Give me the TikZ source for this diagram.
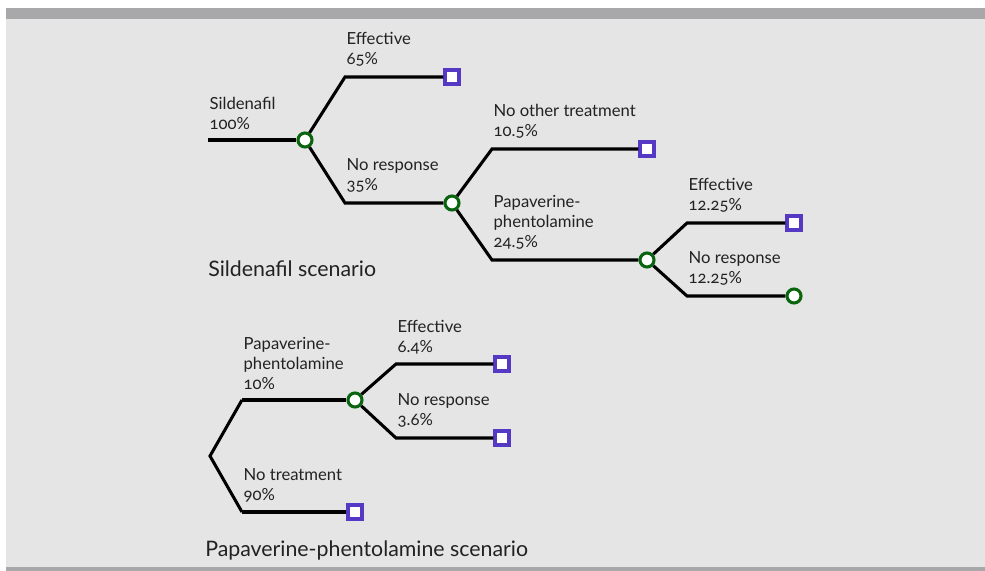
\documentclass[tikz,border=0pt]{standalone}
\usepackage{fontspec}
\setmainfont{Lato}[Numbers=OldStyle]
\usetikzlibrary{positioning, calc}
\definecolor{PanelGray}{HTML}{E5E5E6}
\definecolor{BarGray}{HTML}{A8A8AB}
\definecolor{ChanceGreen}{HTML}{0B650F}
\definecolor{EndBlue}{HTML}{5538C4}
\definecolor{TextGray}{HTML}{222222}

\begin{document}
\begin{tikzpicture}[
    x=0.75pt, y=-0.75pt,
    branch/.style={line width=2.3pt, black, line join=miter},
    chance/.style={circle, draw=ChanceGreen, line width=2.3pt, fill=white,
        minimum size=10.5pt, inner sep=0pt},
    terminal/.style={rectangle, draw=EndBlue, line width=2.3pt, fill=white,
        minimum size=10.5pt, inner sep=0pt},
    lbl/.style={anchor=south west, inner sep=0pt, align=left, text=TextGray,
        font=\fontsize{12.5}{15}\selectfont, xshift=1pt, yshift=7.5pt},
    caption/.style={anchor=west, inner sep=0pt, text=TextGray,
        font=\fontsize{16}{19}\selectfont},
]

% fond
\useasboundingbox (0,0) rectangle (985,571);
\fill[white] (0,0) rectangle (985,571);
\fill[BarGray] (6,8) rectangle (985,19);
\fill[PanelGray] (6,19) rectangle (985,567);
\fill[BarGray] (6,567) rectangle (985,571);

% arbre sildenafil
\coordinate (s0) at (208,140);
\node[chance] (c1) at (305,140) {};
\coordinate (a1) at (345,77);
\node[terminal] (t1) at (452,77) {};
\coordinate (a2) at (345,203);
\node[chance] (c2) at (452,203) {};
\coordinate (a3) at (492,149);
\node[terminal] (t2) at (647,149) {};
\coordinate (a4) at (492,260);
\node[chance] (c3) at (647,260) {};
\coordinate (a5) at (687,223);
\node[terminal] (t3) at (794,223) {};
\coordinate (a6) at (687,296);
\node[chance] (c4) at (794,296) {};

\draw[branch] (s0) -- (c1);
\draw[branch] (c1) -- (a1) -- (t1);
\draw[branch] (c1) -- (a2) -- (c2);
\draw[branch] (c2) -- (a3) -- (t2);
\draw[branch] (c2) -- (a4) -- (c3);
\draw[branch] (c3) -- (a5) -- (t3);
\draw[branch] (c3) -- (a6) -- (c4);

\node[lbl] (l0) at (s0) {Sildenafil\\100\%};
\node[lbl] (l1) at (a1) {Effective\\65\%};
\node[lbl] (l2) at (a2) {No response\\35\%};
\node[lbl] (l3) at (a3) {No other treatment\\10.5\%};
\node[lbl] (l4) at (a4) {Papaverine-\\phentolamine\\24.5\%};
\node[lbl] (l5) at (a5) {Effective\\12.25\%};
\node[lbl] (l6) at (a6) {No response\\12.25\%};
\node[caption] (cap1) at (208,269) {Sildenafil scenario};

% arbre papaverine-phentolamine
\coordinate (p0) at (210,456);
\coordinate (b1) at (242,400);
\node[chance] (c5) at (355,400) {};
\coordinate (b2) at (242,512);
\node[terminal] (t4) at (355,512) {};
\coordinate (b3) at (396,364);
\node[terminal] (t5) at (502,364) {};
\coordinate (b4) at (396,438);
\node[terminal] (t6) at (502,438) {};

\draw[branch] (b1) -- (p0) -- (b2);
\draw[branch] (b1) -- (c5);
\draw[branch] (b2) -- (t4);
\draw[branch] (c5) -- (b3) -- (t5);
\draw[branch] (c5) -- (b4) -- (t6);

\node[lbl] (l7) at (b1) {Papaverine-\\phentolamine\\10\%};
\node[lbl] (l8) at (b2) {No treatment\\90\%};
\node[lbl] (l9) at (b3) {Effective\\6.4\%};
\node[lbl] (l10) at (b4) {No response\\3.6\%};
\node[caption] (cap2) at (205,550) {Papaverine-phentolamine scenario};

\end{tikzpicture}
\end{document}
